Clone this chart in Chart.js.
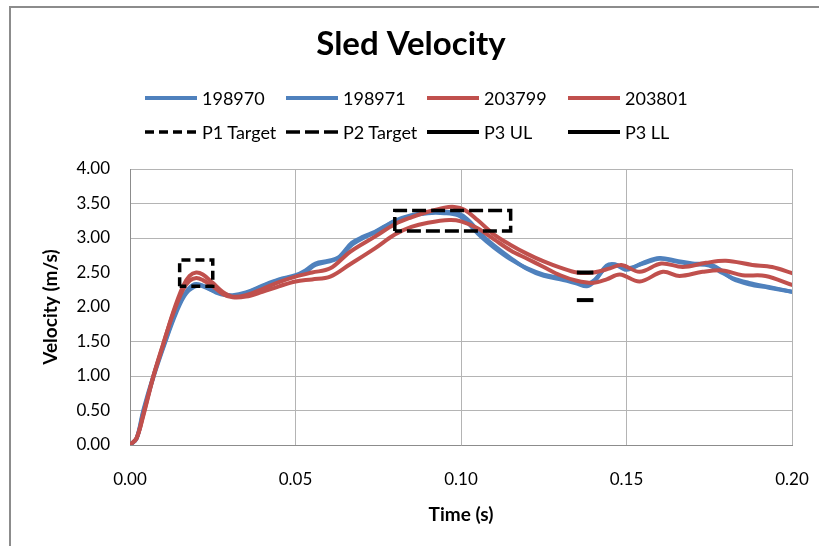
<!DOCTYPE html>
<html>
<head>
<meta charset="utf-8">
<script src="https://cdn.jsdelivr.net/npm/chart.js@4.4.1/dist/chart.umd.min.js"></script>
<style>
  html, body { margin: 0; padding: 0; background: #fff; overflow: hidden; }
  #wrap { position: relative; width: 819px; height: 546px; }
  #frame { position: absolute; left: 9px; top: 6px; width: 830px; height: 560px; border-top: 2px solid #8c8c8c; border-left: 2px solid #8c8c8c; }
  #c { position: absolute; left: 0; top: 0; }
  #legend { position: absolute; left: 145px; top: 81px; font-family: Lato, 'Open Sans', sans-serif; font-size: 18px; color: #000; }
  .row { display: flex; height: 34px; align-items: center; }
  .item { width: 141px; display: flex; align-items: center; white-space: nowrap; }
  .item svg { margin-right: 5px; }
</style>
</head>
<body>
<div id="wrap">
  <div id="frame"></div>
  <canvas id="c" width="819" height="546"></canvas>
  <div id="legend"></div>
</div>
<script>
// ---- data ----
const t198970 = [0, 0.002, 0.004, 0.007, 0.0105, 0.014, 0.017, 0.0195, 0.022, 0.025, 0.028, 0.031, 0.035, 0.04, 0.045, 0.05, 0.053, 0.056, 0.06, 0.063, 0.067, 0.0705, 0.074, 0.08, 0.085, 0.09, 0.095, 0.099, 0.102, 0.106, 0.11, 0.115, 0.12, 0.125, 0.13, 0.135, 0.138, 0.1405, 0.144, 0.1465, 0.15, 0.155, 0.16, 0.165, 0.17, 0.175, 0.178, 0.182, 0.187, 0.193, 0.2];
const v198970 = [0, 0.10, 0.50, 0.99, 1.49, 1.95, 2.22, 2.33, 2.31, 2.24, 2.19, 2.17, 2.21, 2.31, 2.40, 2.46, 2.53, 2.63, 2.67, 2.72, 2.93, 3.02, 3.09, 3.25, 3.33, 3.37, 3.38, 3.36, 3.27, 3.06, 2.89, 2.71, 2.55, 2.45, 2.40, 2.34, 2.30, 2.38, 2.60, 2.62, 2.54, 2.64, 2.71, 2.67, 2.63, 2.62, 2.55, 2.41, 2.33, 2.28, 2.22];

const t198971 = [0, 0.002, 0.004, 0.007, 0.0105, 0.014, 0.017, 0.0205, 0.023, 0.026, 0.029, 0.032, 0.036, 0.04, 0.045, 0.05, 0.053, 0.056, 0.06, 0.063, 0.067, 0.0705, 0.074, 0.08, 0.085, 0.09, 0.095, 0.099, 0.102, 0.106, 0.11, 0.115, 0.12, 0.125, 0.13, 0.135, 0.138, 0.1405, 0.144, 0.1465, 0.15, 0.155, 0.16, 0.165, 0.17, 0.175, 0.178, 0.182, 0.187, 0.193, 0.2];
const v198971 = [0, 0.09, 0.47, 0.97, 1.47, 1.92, 2.20, 2.31, 2.28, 2.21, 2.17, 2.16, 2.22, 2.30, 2.39, 2.45, 2.51, 2.61, 2.66, 2.71, 2.90, 3.00, 3.08, 3.24, 3.32, 3.36, 3.36, 3.33, 3.22, 3.02, 2.86, 2.69, 2.56, 2.47, 2.42, 2.37, 2.33, 2.40, 2.58, 2.61, 2.56, 2.63, 2.70, 2.66, 2.62, 2.60, 2.52, 2.42, 2.35, 2.29, 2.22];

const t203799 = [0, 0.002, 0.004, 0.007, 0.01, 0.013, 0.016, 0.018, 0.020, 0.022, 0.025, 0.028, 0.031, 0.035, 0.04, 0.045, 0.05, 0.055, 0.0605, 0.0665, 0.074, 0.08, 0.085, 0.09, 0.095, 0.098, 0.101, 0.105, 0.11, 0.115, 0.12, 0.125, 0.13, 0.135, 0.14, 0.145, 0.1485, 0.154, 0.1605, 0.167, 0.174, 0.18, 0.188, 0.194, 0.2];
const v203799 = [0, 0.10, 0.42, 0.98, 1.45, 1.92, 2.30, 2.45, 2.50, 2.47, 2.35, 2.22, 2.15, 2.17, 2.26, 2.36, 2.44, 2.50, 2.56, 2.80, 3.02, 3.20, 3.30, 3.38, 3.44, 3.45, 3.41, 3.26, 3.05, 2.90, 2.77, 2.66, 2.57, 2.50, 2.50, 2.56, 2.61, 2.51, 2.63, 2.58, 2.64, 2.67, 2.61, 2.58, 2.49];

const t203801 = [0, 0.002, 0.004, 0.007, 0.01, 0.013, 0.016, 0.018, 0.020, 0.022, 0.025, 0.028, 0.031, 0.035, 0.04, 0.045, 0.05, 0.055, 0.0605, 0.0665, 0.074, 0.08, 0.085, 0.09, 0.0965, 0.1, 0.105, 0.11, 0.115, 0.12, 0.125, 0.13, 0.135, 0.14, 0.144, 0.148, 0.154, 0.161, 0.166, 0.173, 0.179, 0.185, 0.192, 0.2];
const v203801 = [0, 0.10, 0.44, 0.99, 1.46, 1.90, 2.25, 2.38, 2.42, 2.39, 2.30, 2.19, 2.14, 2.15, 2.22, 2.30, 2.37, 2.40, 2.44, 2.62, 2.85, 3.05, 3.16, 3.22, 3.26, 3.24, 3.14, 2.98, 2.82, 2.70, 2.58, 2.46, 2.38, 2.35, 2.40, 2.47, 2.37, 2.51, 2.45, 2.51, 2.53, 2.46, 2.45, 2.32];

const tP1Target = [0.015, 0.015, 0.025, 0.025, 0.015];
const vP1Target = [2.30, 2.68, 2.68, 2.30, 2.30];
const tP2Target = [0.08, 0.08, 0.115, 0.115, 0.08];
const vP2Target = [3.10, 3.40, 3.40, 3.10, 3.10];
const tP3UL = [0.135, 0.14];
const vP3UL = [2.5, 2.5];
const tP3LL = [0.135, 0.14];
const vP3LL = [2.1, 2.1];

const xTicks = [0, 0.05, 0.10, 0.15, 0.20];
const yTicks = [0, 0.5, 1.0, 1.5, 2.0, 2.5, 3.0, 3.5, 4.0];
const yHiddenGrid = [2.0, 2.5];

// ---- build ----
const BLUE = '#4F81BD', RED = '#C0504D', BLACK = '#000000';
const pts = (t, v) => t.map((x, i) => ({ x: x, y: v[i] }));
function curve(label, t, v, color, order) {
  return { label, data: pts(t, v), borderColor: color, backgroundColor: color, borderWidth: 4,
    pointRadius: 0, tension: 0.35, fill: false, order, borderCapStyle: 'round', borderJoinStyle: 'round' };
}
function target(label, t, v, dash, order) {
  return { label, data: pts(t, v), borderColor: BLACK, backgroundColor: BLACK, borderWidth: 3.5,
    borderDash: dash, pointRadius: 0, tension: 0, fill: false, order, borderCapStyle: 'butt' };
}
const datasets = [
  curve('198970', t198970, v198970, BLUE, 8),
  curve('198971', t198971, v198971, BLUE, 7),
  curve('203799', t203799, v203799, RED, 6),
  curve('203801', t203801, v203801, RED, 5),
  target('P1 Target', tP1Target, vP1Target, [9, 5], 4),
  target('P2 Target', tP2Target, vP2Target, [14, 5], 3),
  target('P3 UL', tP3UL, vP3UL, [], 2),
  target('P3 LL', tP3LL, vP3LL, [], 1)
];
datasets[6].borderWidth = 4; datasets[7].borderWidth = 4;

const FONT = 'Lato, "Open Sans", sans-serif';
const noEdgePadding = s => { s.paddingLeft = 0; s.paddingRight = 0; s.paddingTop = 0; s.paddingBottom = 0; };
const chart = new Chart(document.getElementById('c'), {
  type: 'line',
  data: { datasets },
  options: {
    responsive: false, animation: false, devicePixelRatio: 1,
    layout: { padding: { left: 30, right: 27, top: 0, bottom: 0 } },
    plugins: {
      legend: { display: false },
      tooltip: { enabled: false },
      title: { display: true, text: 'Sled Velocity', color: '#000',
        font: { family: FONT, size: 33, weight: 'bold' }, padding: { top: 25, bottom: 104.4 } }
    },
    scales: {
      x: { type: 'linear', min: 0, max: 0.2,
        afterBuildTicks: s => { s.ticks = xTicks.map(v => ({ value: v })); },
        ticks: { callback: v => Number(v).toFixed(2), padding: 24, color: '#000', font: { family: FONT, size: 17 }, maxRotation: 0 },
        grid: { drawTicks: false, color: '#b4b4b4', lineWidth: 1 },
        border: { color: '#8c8c8c', width: 1 },
        title: { display: true, text: 'Time (s)', color: '#000', font: { family: FONT, size: 19, weight: 'bold' }, padding: { top: 0, bottom: 20 } },
        afterFit: s => { s.height = 101; noEdgePadding(s); }
      },
      y: { type: 'linear', min: 0, max: 4,
        afterBuildTicks: s => { s.ticks = yTicks.map(v => ({ value: v })); },
        ticks: { callback: v => Number(v).toFixed(2), padding: 20, color: '#000', font: { family: FONT, size: 17 } },
        grid: { drawTicks: false, lineWidth: 1,
          color: c => (c.tick && yHiddenGrid.includes(c.tick.value)) ? 'rgba(0,0,0,0)' : '#b4b4b4' },
        border: { color: '#8c8c8c', width: 1 },
        title: { display: true, text: 'Velocity (m/s)', color: '#000', font: { family: FONT, size: 19, weight: 'bold' }, padding: { top: 9, bottom: 0 } },
        afterFit: s => { s.width = 100; noEdgePadding(s); }
      }
    }
  }
});

// ---- HTML legend built from the chart's datasets ----
(function buildLegend() {
  const el = document.getElementById('legend');
  const ds = chart.data.datasets;
  const perRow = 4;
  for (let r = 0; r < Math.ceil(ds.length / perRow); r++) {
    const row = document.createElement('div'); row.className = 'row';
    ds.slice(r * perRow, r * perRow + perRow).forEach(d => {
      const item = document.createElement('div'); item.className = 'item';
      const dash = (d.borderDash && d.borderDash.length) ? d.borderDash.join(',') : 'none';
      item.innerHTML = '<svg width="52" height="6"><line x1="0" y1="3" x2="52" y2="3" stroke="' + d.borderColor +
        '" stroke-width="' + d.borderWidth + '" stroke-dasharray="' + dash + '" stroke-linecap="' +
        (d.borderCapStyle === 'round' ? 'round' : 'butt') + '"/></svg>';
      const span = document.createElement('span'); span.textContent = d.label;
      item.appendChild(span);
      row.appendChild(item);
    });
    el.appendChild(row);
  }
})();
</script>
</body>
</html>
